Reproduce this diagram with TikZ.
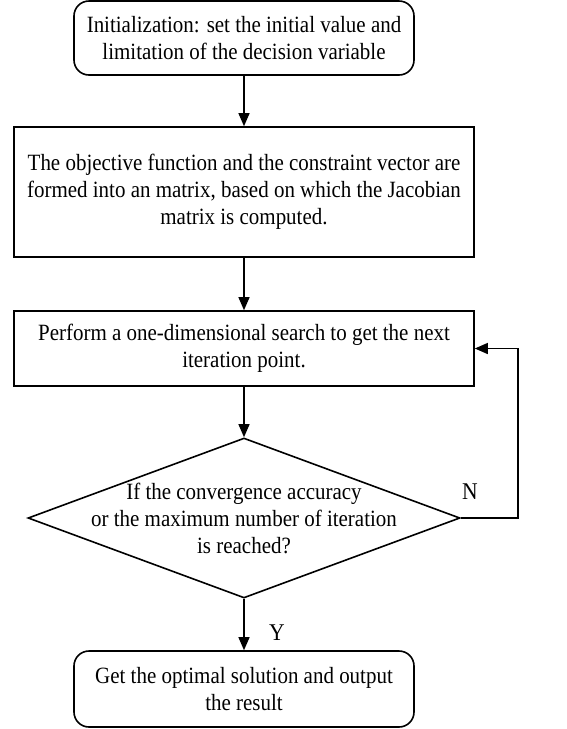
\documentclass[tikz,border=0pt]{standalone}
\usepackage{fontspec}
\setmainfont[FakeStretch=0.9]{Liberation Serif}
\usetikzlibrary{shapes.geometric,arrows.meta}
\begin{document}
\begin{tikzpicture}[x=1pt,y=-1pt,
  every node/.style={font=\fontsize{23.3}{27}\selectfont, align=center, inner sep=0pt},
  rbox/.style={draw, line width=1.6pt, rounded corners=15pt, minimum width=340pt, minimum height=74pt},
  sbox/.style={draw, line width=1.6pt, minimum width=460pt},
  dia/.style={draw, line width=1.6pt, diamond, minimum width=432pt, minimum height=160pt},
  arr/.style={line width=1.3pt, -{Triangle[length=13pt,width=11pt]}},
  lbl/.style={font=\fontsize{24}{26}\selectfont}
]
\useasboundingbox (0,0) rectangle (566,729);
\node[rbox] (init) at (244,38) {Initialization: set the initial value and\\limitation of the decision variable};
\node[sbox, minimum height=130pt] (jac) at (244,192) {The objective function and the constraint vector are\\formed into an matrix, based on which the Jacobian\\matrix is computed.};
\node[sbox, minimum height=75pt] (search) at (244,348.5) {Perform a one-dimensional search to get the next\\iteration point.};
\node[dia] (cond) at (244,518) {};
\node at (244,518) {If the convergence accuracy\\or the maximum number of iteration\\is reached?};
\node[rbox, minimum height=76pt] (out) at (244,689) {Get the optimal solution and output\\the result};
\coordinate (c1) at (518,518);
\coordinate (c2) at (518,348.5);
\draw[arr] (init) -- (jac);
\draw[arr] (jac) -- (search);
\draw[arr] (search) -- (cond);
\draw[arr] (cond) -- (out);
\draw[arr] (cond.east) -- (c1) -- (c2) -- (search.east);
\node[lbl] (n) at (470,492) {N};
\node[lbl] (y) at (277,633) {Y};
\end{tikzpicture}
\end{document}
